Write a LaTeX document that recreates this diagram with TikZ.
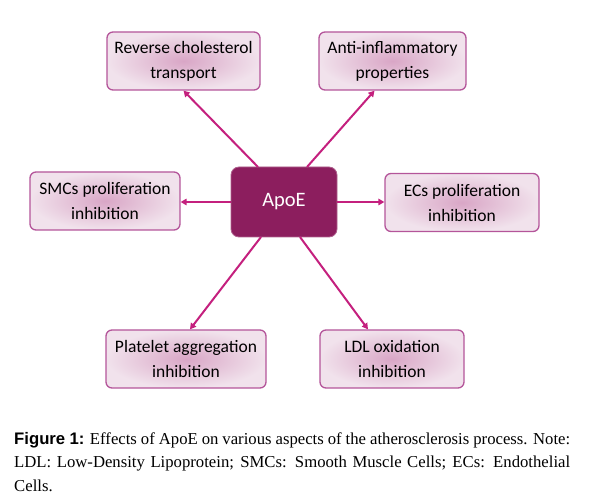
\documentclass[tikz,border=0pt]{standalone}
\usepackage{fontspec}
\setmainfont{Liberation Serif}
\newfontfamily\boxfont{Carlito}
\newfontfamily\capsans{Liberation Sans}
\usetikzlibrary{arrows.meta,shadows}
\definecolor{boxedge}{HTML}{B4559A}
\definecolor{boxin}{HTML}{D9A6C6}
\definecolor{boxout}{HTML}{F1E2EC}
\definecolor{apoefill}{HTML}{8C1E5E}
\definecolor{arrowc}{HTML}{C4207E}
\tikzset{
  effect/.style={draw=boxedge, line width=1.3pt, rounded corners=6pt,
    inner color=boxin, outer color=boxout, align=center,
    font=\boxfont\fontsize{17.5}{25}\selectfont, text=black,
    minimum height=58pt, inner sep=1pt},
  central/.style={draw=apoefill!70, line width=0.8pt, rounded corners=8pt, fill=apoefill,
    text=white, font=\boxfont\fontsize{20.5}{22}\selectfont,
    minimum width=106pt, minimum height=70pt},
  conn/.style={draw=arrowc, line width=2pt, -{Triangle[length=6pt,width=6.5pt]}}
}
\begin{document}
\begin{tikzpicture}[x=1pt,y=-1pt]
\useasboundingbox (0,0) rectangle (589,502);
\node[central] (apoe) at (284,202) {ApoE};
\node[effect, minimum width=153pt] (rct) at (183.5,61) {Reverse cholesterol\\transport};
\node[effect, minimum width=147pt] (anti) at (392.5,61) {Anti-inflammatory\\properties};
\node[effect, minimum width=150pt] (smc) at (105,201) {SMCs proliferation\\inhibition};
\node[effect, minimum width=154pt] (ec) at (462,202.5) {ECs proliferation\\inhibition};
\node[effect, minimum width=160pt] (plt) at (186,359) {Platelet aggregation\\inhibition};
\node[effect, minimum width=144pt] (ldl) at (392,359) {LDL oxidation\\inhibition};
\coordinate (a1) at (258,167);
\coordinate (a2) at (307,167);
\coordinate (a3) at (261,237);
\coordinate (a4) at (300,237);
\draw[conn] (a1) -- (rct.south);
\draw[conn] (a2) -- ([xshift=-18pt]anti.south);
\draw[conn] (apoe.west) -- (apoe.west -| smc.east);
\draw[conn] (apoe.east) -- (apoe.east -| ec.west);
\draw[conn] (a3) -- ([xshift=4pt]plt.north);
\draw[conn] (a4) -- ([xshift=-24pt]ldl.north);
\node[anchor=north west, text width=556pt, align=justify, inner sep=0pt,
  font=\fontsize{16.7}{23.5}\selectfont] (cap) at (14,432)
  {{\capsans\bfseries Figure 1:} Effects of ApoE on various aspects of the atherosclerosis process. Note: LDL: Low-Density Lipoprotein; SMCs: Smooth Muscle Cells; ECs: Endothelial Cells.};
\end{tikzpicture}
\end{document}
